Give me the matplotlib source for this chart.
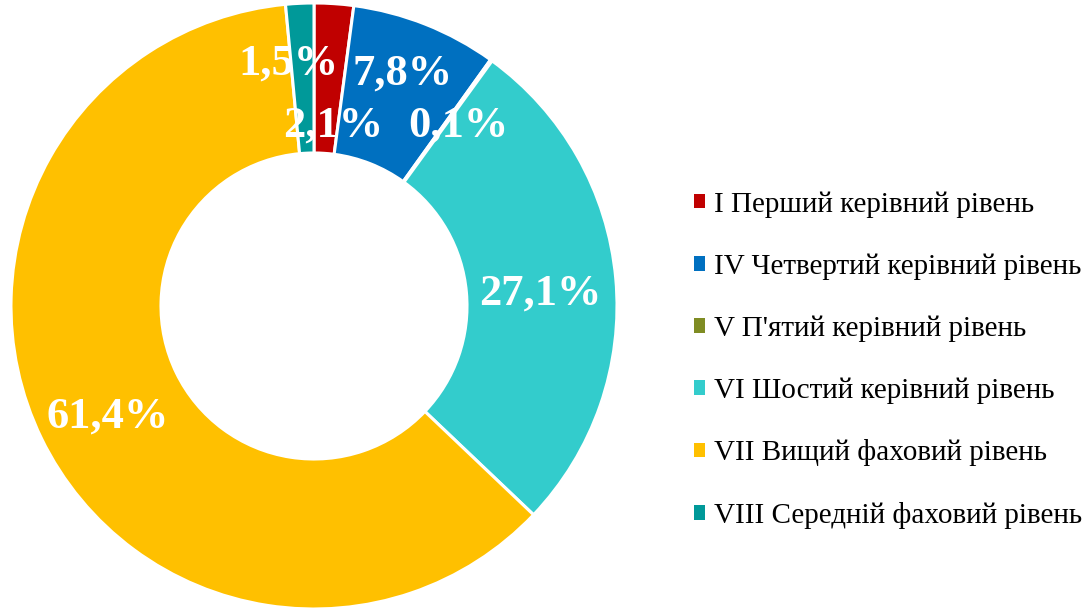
import numpy as np
import matplotlib.pyplot as plt

labels = ['I Перший керівний рівень', 'IV Четвертий керівний рівень',
          "V П'ятий керівний рівень", 'VI Шостий керівний рівень',
          'VII Вищий фаховий рівень', 'VIII Середній фаховий рівень']
values = [2.1, 7.8, 0.1, 27.1, 61.4, 1.5]
value_text = ['2,1%', '7,8%', '0,1%', '27,1%', '61,4%', '1,5%']
colors = ['#C00000', '#0070C0', '#7F8C23', '#33CCCC', '#FFC000', '#009999']

# label placement tweaks (fraction of radius, extra angle in degrees, ccw)
label_r = [0.615, 0.835, 0.775, 0.75, 0.765, 0.82]
label_da = [-2.1, 1.0, -2.1, -0.9, 1.3, 3.3]

fig = plt.figure(figsize=(10.91, 6.13), dpi=100)
ax = fig.add_axes((11 / 1091, 4 / 613, 606 / 1091, 606 / 613))

wedges, _ = ax.pie(values, colors=colors, startangle=90, counterclock=False,
                   radius=1.0, wedgeprops=dict(width=0.495, edgecolor='white',
                                               linewidth=2.2))
ax.set_xlim(-1, 1)
ax.set_ylim(-1, 1)

total = sum(values)
start = 90.0
for i, v in enumerate(values):
    mid = start - v / total * 360 / 2 + label_da[i]
    start -= v / total * 360
    x = label_r[i] * np.cos(np.deg2rad(mid))
    y = label_r[i] * np.sin(np.deg2rad(mid)) - 0.015
    ax.text(x, y, value_text[i], ha='center', va='center', color='white',
            fontsize=32, fontweight='bold', family='Liberation Serif')

leg = fig.legend(wedges, labels, loc='center left',
                 bbox_to_anchor=(679 / 1091, 1 - 360 / 613), frameon=False,
                 prop=dict(family='Liberation Serif', size=21),
                 handlelength=0.4, handleheight=0.4, handletextpad=0.3,
                 labelspacing=1.22, borderpad=0)
for h in leg.legend_handles:
    h.set_edgecolor('none')

fig.savefig('out.png', dpi=100)
